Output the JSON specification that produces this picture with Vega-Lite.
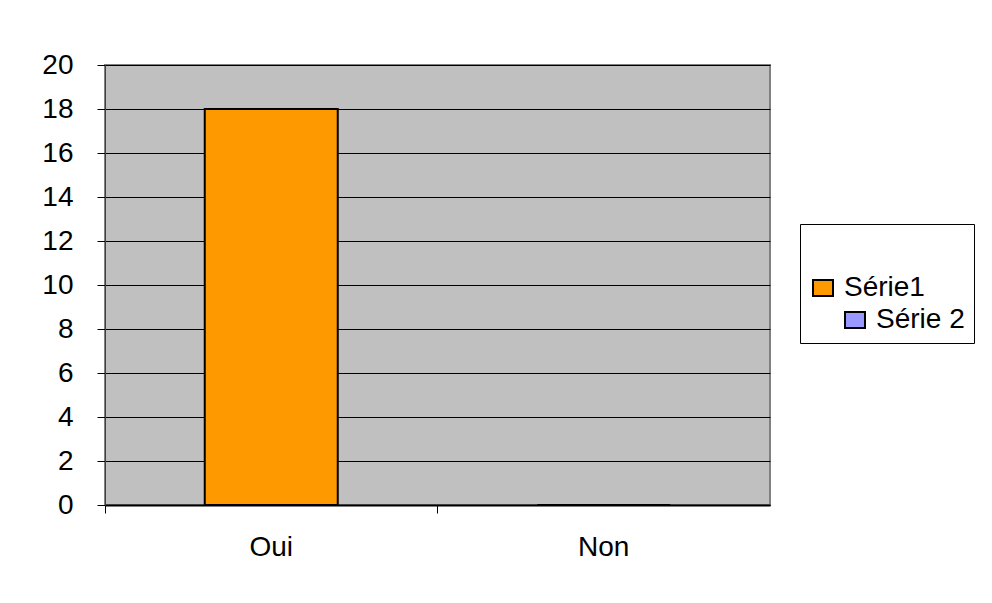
{
  "$schema": "https://vega.github.io/schema/vega-lite/v6.json",
  "width": 665,
  "height": 440,
  "autosize": {"type": "none"},
  "padding": {"left": 105, "top": 65, "right": 222, "bottom": 98},
  "background": "white",
  "config": {
    "font": "Liberation Sans",
    "view": {"fill": "#C0C0C0", "stroke": "#808080", "strokeWidth": 2}
  },
  "data": {
    "values": [
      {"category": "Oui", "series": "Série1", "value": 18},
      {"category": "Non", "series": "Série1", "value": 0}
    ]
  },
  "mark": {"type": "bar", "stroke": "black", "strokeWidth": 2, "width": {"band": 0.4}},
  "encoding": {
    "x": {
      "field": "category",
      "type": "nominal",
      "sort": ["Oui", "Non"],
      "scale": {"paddingInner": 0, "paddingOuter": 0},
      "axis": {
        "title": null,
        "bandPosition": 0,
        "labelOffset": 0,
        "labelAngle": 0,
        "labelFontSize": 28,
        "labelColor": "black",
        "labelPadding": 20,
        "tickSize": 8,
        "tickColor": "black",
        "domainColor": "black",
        "domainWidth": 2,
        "grid": false
      }
    },
    "y": {
      "field": "value",
      "type": "quantitative",
      "scale": {"domain": [0, 20]},
      "axis": {
        "title": null,
        "values": [0, 2, 4, 6, 8, 10, 12, 14, 16, 18, 20],
        "grid": true,
        "gridColor": "black",
        "gridWidth": 1,
        "labelFontSize": 28,
        "labelColor": "black",
        "labelPadding": 24,
        "tickSize": 8,
        "tickColor": "black",
        "domainColor": "#404040",
        "domainWidth": 1
      }
    },
    "fill": {
      "field": "series",
      "type": "nominal",
      "scale": {"domain": ["Série1", "Série 2"], "range": ["#FF9900", "#9999FF"]},
      "legend": {
        "orient": "none",
        "legendX": 695,
        "legendY": 159,
        "title": " ",
        "titleFontSize": 20,
        "titlePadding": 21,
        "padding": 9,
        "strokeColor": "black",
        "fillColor": "white",
        "labelFontSize": 28,
        "labelColor": "black",
        "labelOffset": 7,
        "rowPadding": 4,
        "symbolType": "M-1,-0.8H1V0.8H-1Z",
        "symbolSize": 400,
        "symbolStrokeColor": "black",
        "symbolStrokeWidth": 2,
        "encode": {
          "symbols": {
            "update": {
              "shape": {"signal": "datum.value === 'Série 2' ? 'M2.2,-0.8H4.2V0.8H2.2Z' : 'M-1,-0.8H1V0.8H-1Z'"},
              "stroke": {"value": "black"},
              "strokeWidth": {"value": 2}
            }
          },
          "labels": {
            "update": {
              "dx": {"signal": "datum.value === 'Série 2' ? 32 : 0"}
            }
          }
        }
      }
    }
  }
}
